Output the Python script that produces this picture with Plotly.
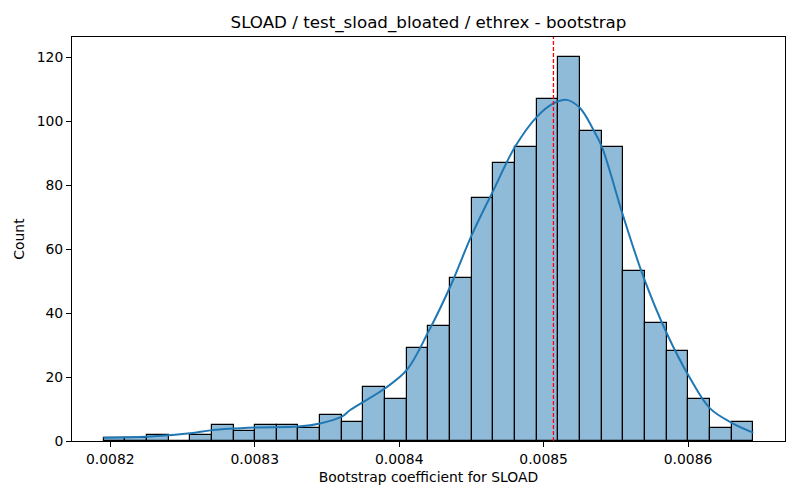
import plotly.graph_objects as go

# histogram of bootstrap coefficients (30 bins)
bin_start = 0.00819536
bin_width = 1.4993e-5
counts = [1, 1, 2, 0, 2, 5, 3, 5, 5, 4, 8, 6, 17, 13, 29,
          36, 51, 76, 87, 92, 107, 120, 97, 92, 53, 37, 28, 13, 4, 6]

# kde curve
kde_x = [0.00819536, 0.0082254, 0.0082554, 0.0082704, 0.0083003, 0.0083303,
         0.0083453, 0.0083603, 0.0083661, 0.0083903, 0.0084053, 0.0084203,
         0.0084353, 0.0084503, 0.0084653, 0.0084803, 0.0084953, 0.0085068,
         0.0085161, 0.0085253, 0.0085345, 0.0085403, 0.0085552, 0.0085691,
         0.0085853, 0.0086014, 0.0086152, 0.0086302, 0.0086452]
kde_y = [1.0, 1.3, 2.4, 3.4, 4.2, 4.5, 5.5, 7.6, 9.7, 16.5, 22.2, 34.2,
         48.2, 64.4, 78.4, 92.0, 101.3, 105.5, 106.6, 104.0, 97.2, 92.0,
         70.1, 51.3, 33.6, 19.6, 10.2, 5.7, 2.6]

point_estimate = 0.0085068

x_ticks = [0.0082, 0.0083, 0.0084, 0.0085, 0.0086]
y_ticks = [0, 20, 40, 60, 80, 100, 120]

centers = [bin_start + bin_width * (i + 0.5) for i in range(len(counts))]

fig = go.Figure()
fig.add_trace(go.Bar(
    x=centers, y=counts, width=[bin_width] * len(counts),
    marker=dict(color="rgba(31,119,180,0.5)", line=dict(color="black", width=1.2)),
    hoverinfo="x+y",
))
fig.add_trace(go.Scatter(
    x=kde_x, y=kde_y, mode="lines", line=dict(color="#1f77b4", width=2, shape="spline"),
))

fig.add_shape(type="line", xref="x", yref="paper", x0=point_estimate, x1=point_estimate,
              y0=0, y1=1, layer="above", line=dict(color="#ff0000", width=1.3, dash="4px,2px"))

axis_style = dict(showline=True, mirror=True, linecolor="black", linewidth=1,
                  ticks="outside", ticklen=5, tickcolor="black", showgrid=False,
                  zeroline=False, tickfont=dict(size=13.9, color="black"))

fig.update_layout(
    width=800, height=500,
    margin=dict(l=72, r=15, t=37, b=59),
    plot_bgcolor="white", paper_bgcolor="white",
    font=dict(family="DejaVu Sans", color="black"),
    showlegend=False, bargap=0,
    title=dict(text="SLOAD / test_sload_bloated / ethrex - bootstrap", x=0.5, xref="paper",
               y=1 - 22 / 500, yref="container", yanchor="middle", font=dict(size=16.7)),
    xaxis=dict(axis_style, range=[0.0081735, 0.0086671], tickvals=x_ticks,
               ticktext=[f"{v:.4f}" for v in x_ticks],
               title=dict(text="Bootstrap coefficient for SLOAD", font=dict(size=13.9), standoff=6)),
    yaxis=dict(axis_style, range=[0, 126.25], tickvals=y_ticks,
               title=dict(text="Count", font=dict(size=13.9), standoff=8)),
)

# drop the page's default body margin so the figure sits at the window origin
fig.write_html("out.html", config={"displayModeBar": False},
               post_script="document.body.style.margin='0';")
